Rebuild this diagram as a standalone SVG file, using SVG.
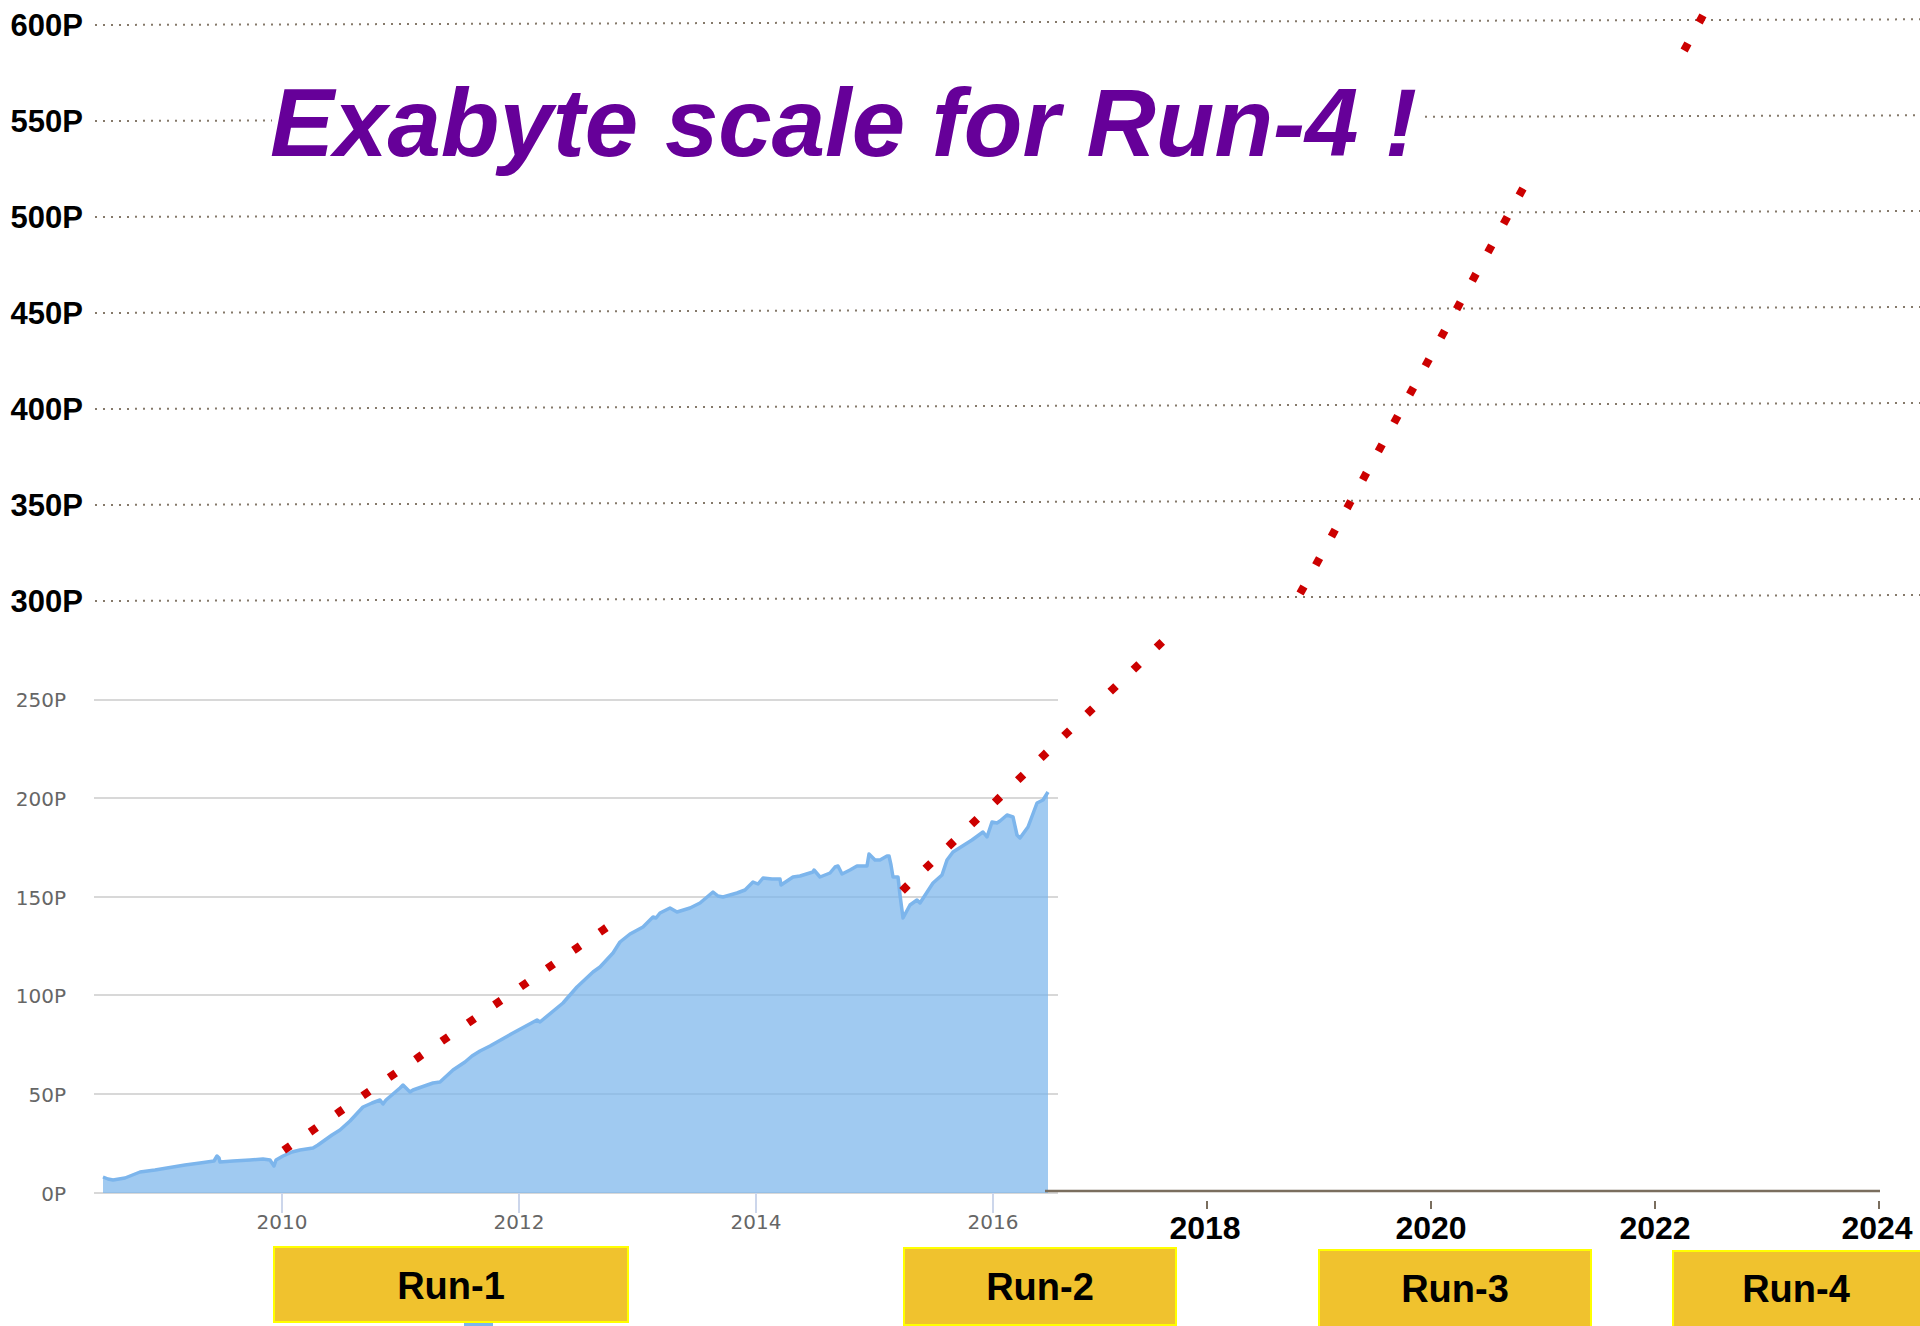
<svg xmlns="http://www.w3.org/2000/svg" width="1920" height="1326" viewBox="0 0 1920 1326">
<style>
.ugrid{stroke:#85796a;stroke-width:2;stroke-dasharray:2 6;fill:none}
.ulab{font-family:"Liberation Sans",Arial,sans-serif;font-weight:bold;font-size:31px;fill:#000;text-anchor:end}
.lgrid{stroke:#d8d8d8;stroke-width:2;fill:none}
.llab{font-family:"DejaVu Sans",sans-serif;font-size:20px;fill:#666;text-anchor:end}
.xlab{font-family:"DejaVu Sans",sans-serif;font-size:20px;fill:#666;text-anchor:middle}
.ltick{stroke:#ccd6eb;stroke-width:2}
.utick{stroke:#7a6e5e;stroke-width:2}
.ylab{font-family:"Liberation Sans",Arial,sans-serif;font-weight:bold;font-size:32px;fill:#000;text-anchor:middle}
.trend{stroke:#cc0000;stroke-width:8;stroke-linecap:square;fill:none}
.run rect{fill:#f0c22e;stroke:#ffff00;stroke-width:2}
.run text{font-family:"Liberation Sans",Arial,sans-serif;font-weight:bold;font-size:38px;fill:#000;text-anchor:middle}
</style>
<rect width="1920" height="1326" fill="#fff"/>
<g id="upper-grid">
<path class="ugrid" d="M95,25 L1920,19.3"/>
<path class="ugrid" d="M95,121 L272,120.5 M1425,116.8 L1920,115.3"/>
<path class="ugrid" d="M95,217 L1920,211"/>
<path class="ugrid" d="M95,313 L1920,307"/>
<path class="ugrid" d="M95,409 L1920,403"/>
<path class="ugrid" d="M95,505 L1920,499"/>
<path class="ugrid" d="M95,601 L1920,595"/>
<text class="ulab" x="83" y="36">600P</text>
<text class="ulab" x="83" y="132">550P</text>
<text class="ulab" x="83" y="228">500P</text>
<text class="ulab" x="83" y="324">450P</text>
<text class="ulab" x="83" y="420">400P</text>
<text class="ulab" x="83" y="516">350P</text>
<text class="ulab" x="83" y="612">300P</text>
</g>
<g id="lower-grid">
<path class="lgrid" d="M94,700 H1058 M94,798 H1058 M94,897 H1058 M94,995 H1058 M94,1094 H1058 M94,1193 H1058"/>
<text class="llab" x="66" y="707">250P</text>
<text class="llab" x="66" y="806">200P</text>
<text class="llab" x="66" y="905">150P</text>
<text class="llab" x="66" y="1003">100P</text>
<text class="llab" x="66" y="1102">50P</text>
<text class="llab" x="66" y="1201">0P</text>
<path class="ltick" d="M282,1193 V1213 M519,1193 V1213 M756,1193 V1213 M993,1193 V1213"/>
<text class="xlab" x="282" y="1229">2010</text>
<text class="xlab" x="519" y="1229">2012</text>
<text class="xlab" x="756" y="1229">2014</text>
<text class="xlab" x="993" y="1229">2016</text>
</g>
<g id="area">
<path fill="#7cb5ec" fill-opacity="0.72" stroke="none" d="M103,1177 L108,1179 L113,1180 L125,1178 L140,1172 L155,1170 L167,1168 L185,1165 L200,1163 L214,1161 L217,1156 L219,1158 L220,1162 L233,1161 L250,1160 L263,1159 L270,1160 L274,1166 L276,1160 L283,1156 L292,1152 L300,1150 L313,1148 L318,1145 L325,1140 L332,1135 L340,1130 L350,1121 L363,1107 L372,1103 L380,1100 L383,1104 L386,1100 L400,1088 L403,1085 L410,1092 L413,1090 L433,1083 L440,1082 L453,1070 L465,1062 L472,1056 L480,1051 L490,1046 L513,1033 L537,1020 L540,1022 L563,1003 L577,987 L593,972 L600,967 L613,953 L620,942 L630,934 L643,927 L653,917 L656,918 L660,913 L670,908 L677,912 L690,908 L700,903 L713,892 L718,896 L723,897 L737,893 L745,890 L753,882 L758,884 L763,878 L772,879 L780,879 L781,885 L793,877 L800,876 L813,872 L814,870 L820,877 L830,873 L835,867 L838,866 L842,874 L850,870 L857,866 L867,866 L869,854 L875,860 L880,860 L887,856 L889,856 L891,865 L893,877 L898,877 L900,895 L903,918 L910,905 L917,900 L920,903 L933,883 L942,875 L947,860 L953,852 L972,840 L983,832 L987,837 L992,822 L997,823 L1000,821 L1007,815 L1013,817 L1017,835 L1020,838 L1028,827 L1037,803 L1043,800 L1048,792 L1048,1193 L103,1193 Z"/>
<path fill="none" stroke="#7cb5ec" stroke-width="3.5" stroke-linejoin="round" d="M103,1177 L108,1179 L113,1180 L125,1178 L140,1172 L155,1170 L167,1168 L185,1165 L200,1163 L214,1161 L217,1156 L219,1158 L220,1162 L233,1161 L250,1160 L263,1159 L270,1160 L274,1166 L276,1160 L283,1156 L292,1152 L300,1150 L313,1148 L318,1145 L325,1140 L332,1135 L340,1130 L350,1121 L363,1107 L372,1103 L380,1100 L383,1104 L386,1100 L400,1088 L403,1085 L410,1092 L413,1090 L433,1083 L440,1082 L453,1070 L465,1062 L472,1056 L480,1051 L490,1046 L513,1033 L537,1020 L540,1022 L563,1003 L577,987 L593,972 L600,967 L613,953 L620,942 L630,934 L643,927 L653,917 L656,918 L660,913 L670,908 L677,912 L690,908 L700,903 L713,892 L718,896 L723,897 L737,893 L745,890 L753,882 L758,884 L763,878 L772,879 L780,879 L781,885 L793,877 L800,876 L813,872 L814,870 L820,877 L830,873 L835,867 L838,866 L842,874 L850,870 L857,866 L867,866 L869,854 L875,860 L880,860 L887,856 L889,856 L891,865 L893,877 L898,877 L900,895 L903,918 L910,905 L917,900 L920,903 L933,883 L942,875 L947,860 L953,852 L972,840 L983,832 L987,837 L992,822 L997,823 L1000,821 L1007,815 L1013,817 L1017,835 L1020,838 L1028,827 L1037,803 L1043,800 L1048,792"/>
</g>
<g id="upper-axis">
<path stroke="#7a6e5e" stroke-width="2.5" d="M1045,1191 H1880"/>
<path class="utick" d="M1207,1201 V1209 M1431,1201 V1209 M1655,1201 V1209 M1879,1201 V1209"/>
<text class="ylab" x="1205" y="1239">2018</text>
<text class="ylab" x="1431" y="1239">2020</text>
<text class="ylab" x="1655" y="1239">2022</text>
<text class="ylab" x="1877" y="1239">2024</text>
</g>
<g id="connectors">
<path class="trend" stroke-dasharray="0.01 31.99" d="M287,1148 L604.7,928.8"/>
<path class="trend" stroke-dasharray="0.01 31.99" d="M905,888 L1160.8,643.3"/>
<path class="trend" stroke-dasharray="0.01 32.44" d="M1302,590 L1521.7,190.9"/>
<path class="trend" stroke-dasharray="0.01 31.79" d="M1686,47 L1701.6,17.9"/>
</g>
<g id="title">
<text x="270" y="156" font-family="'Liberation Sans',Arial,sans-serif" font-weight="bold" font-style="italic" font-size="96" fill="#660099">Exabyte scale for Run-4 !</text>
</g>
<g id="run-1" class="run"><rect x="274" y="1247" width="354" height="75"/><text x="451" y="1299">Run-1</text></g>
<g id="run-2" class="run"><rect x="904" y="1248" width="272" height="77"/><text x="1040" y="1300">Run-2</text></g>
<g id="run-3" class="run"><rect x="1319" y="1250" width="272" height="78"/><text x="1455" y="1302">Run-3</text></g>
<g id="run-4" class="run"><rect x="1673" y="1251" width="250" height="78"/><text x="1796" y="1302">Run-4</text></g>
<rect x="464" y="1323" width="29" height="3" fill="#7cb5ec"/>
</svg>
